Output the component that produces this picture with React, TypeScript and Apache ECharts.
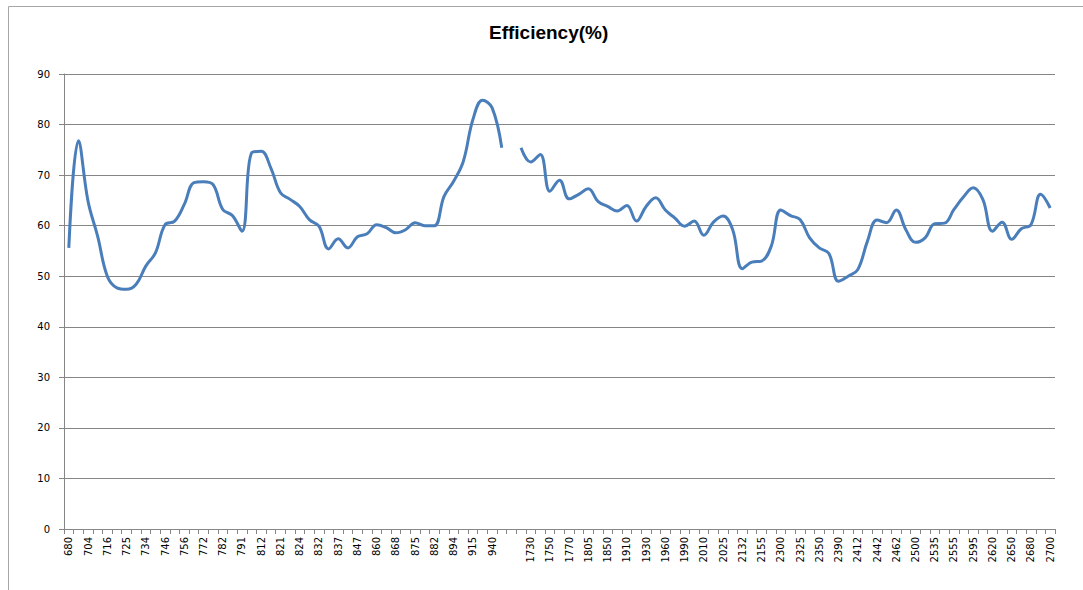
import React, { useEffect, useRef } from "react";
import * as echarts from "echarts";

const categories: string[] = [
  "680", "692", "704", "710", "716", "720", "725", "730", "734", "740",
  "746", "750", "756", "764", "772", "777", "782", "786", "791", "800",
  "812", "816", "821", "822", "824", "828", "832", "835", "837", "842",
  "847", "853", "860", "864", "868", "871", "875", "878", "882", "888",
  "894", "905", "915", "928", "940", "950", "", "1720", "1730", "1740",
  "1750", "1760", "1770", "1790", "1805", "1830", "1850", "1880", "1910", "1920",
  "1930", "1945", "1960", "1975", "1990", "2000", "2010", "2018", "2025", "2080",
  "2132", "2145", "2155", "2230", "2300", "2312", "2325", "2337", "2350", "2370",
  "2390", "2400", "2412", "2427", "2442", "2452", "2462", "2480", "2500", "2518",
  "2535", "2545", "2555", "2575", "2595", "2608", "2620", "2635", "2650", "2665",
  "2680", "2690", "2700",
];

const efficiency: (number | null)[] = [
  55.6, 76.8, 64.8, 57.9, 50.0, 47.7, 47.4, 48.4, 52.0, 54.6,
  60.2, 60.9, 64.2, 68.5, 68.7, 68.1, 63.2, 62.0, 58.9, 74.4,
  74.7, 71.4, 66.5, 65.2, 63.8, 61.2, 59.9, 55.4, 57.4, 55.6,
  57.8, 58.4, 60.2, 59.6, 58.6, 59.2, 60.6, 60.0, 60.0, 65.8,
  68.8, 72.7, 81.0, 84.8, 83.3, 75.4, null, 75.4, 72.6, 74.1,
  66.8, 69.0, 65.3, 66.2, 67.3, 64.8, 63.8, 62.9, 64.0, 60.9,
  63.8, 65.5, 63.1, 61.5, 59.9, 60.9, 58.1, 60.7, 61.9, 59.2,
  51.5, 52.8, 53.0, 55.9, 63.1, 62.0, 61.2, 57.6, 55.6, 54.5,
  49.0, 50.0, 51.3, 56.9, 61.1, 60.6, 63.1, 59.2, 56.7, 57.6,
  60.4, 60.5, 63.2, 65.7, 67.5, 65.2, 58.9, 60.7, 57.3, 59.4,
  60.2, 66.2, 63.5,
];

const titleText = "Efficiency(%)";

export default function App() {
  const ref = useRef<HTMLDivElement>(null);
  useEffect(() => {
    if (!ref.current) return;
    const chart = echarts.init(ref.current, null, { renderer: "svg" });
    const axisGray = "#868686";
    chart.setOption({
      animation: false,
      backgroundColor: "#ffffff",
      title: {
        text: titleText,
        left: 484,
        top: 18,
        textStyle: {
          fontFamily: "Liberation Sans, Arial, sans-serif",
          fontWeight: "bold",
          fontSize: 19,
          color: "#000000",
        },
      },
      graphic: [
        {
          type: "rect",
          shape: { x: 8.5, y: 6.5, width: 1100, height: 600 },
          style: { fill: "none", stroke: "#a6a6a6", lineWidth: 1 },
          silent: true,
        },
      ],
      grid: { left: 64, right: 28, top: 74, bottom: 61, containLabel: false },
      xAxis: {
        type: "category",
        data: categories,
        boundaryGap: true,
        axisLine: { show: true, lineStyle: { color: axisGray, width: 1 } },
        axisTick: {
          show: true,
          interval: 0,
          length: 5,
          lineStyle: { color: axisGray },
        },
        axisLabel: {
          interval: 1,
          rotate: 90,
          fontSize: 10,
          margin: 8,
          color: "#000000",
          fontFamily: "DejaVu Sans, Verdana, sans-serif",
        },
        splitLine: { show: false },
      },
      yAxis: {
        type: "value",
        min: 0,
        max: 90,
        interval: 10,
        axisLine: { show: true, lineStyle: { color: axisGray, width: 1 } },
        axisTick: { show: true, length: 5, lineStyle: { color: axisGray } },
        axisLabel: {
          fontSize: 10,
          margin: 14,
          color: "#000000",
          fontFamily: "DejaVu Sans, Verdana, sans-serif",
        },
        splitLine: { show: true, lineStyle: { color: axisGray, width: 1 } },
      },
      series: [
        {
          name: "Efficiency",
          type: "line",
          data: efficiency,
          smooth: 0.4,
          connectNulls: false,
          showSymbol: false,
          symbol: "none",
          lineStyle: { color: "#4a7ebb", width: 3 },
          itemStyle: { color: "#4a7ebb" },
        },
      ],
    });
    return () => chart.dispose();
  }, []);
  return (
    <div
      ref={ref}
      style={{ position: "absolute", left: 0, top: 0, width: 1083, height: 590 }}
    />
  );
}
